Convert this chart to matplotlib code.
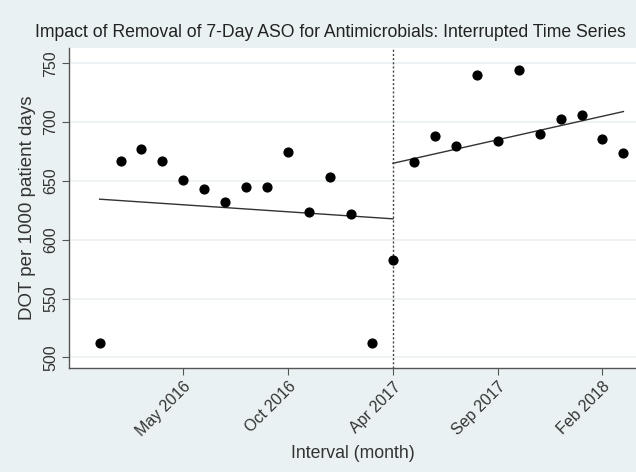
import matplotlib
matplotlib.use("Agg")
import matplotlib.pyplot as plt
import numpy as np

plt.rcParams['font.family'] = ['Liberation Sans', 'DejaVu Sans']

# Data
interval = list(range(26))
dot_rate = [512, 667, 677, 667, 651, 643, 632, 645, 645, 675, 624, 653, 622, 512, 583,
            666, 688, 680, 740, 684, 744, 690, 703, 706, 686, 674]
intervention = 14
pre_fit_x = [0, 14]
pre_fit_y = [634.5, 617.8]
post_fit_x = [14, 25]
post_fit_y = [665.0, 709.0]
tick_pos = [4, 9, 14, 19, 24]
tick_labels = ["May 2016", "Oct 2016", "Apr 2017", "Sep 2017", "Feb 2018"]
yticks = [500, 550, 600, 650, 700, 750]

bg = '#eaf1f3'
fig = plt.figure(figsize=(6.36, 4.72), dpi=100, facecolor=bg)
W, H = 636, 472
ax = fig.add_axes([69 / W, 1 - 368 / H, (636 - 69) / W, (368 - 48) / H])
ax.set_facecolor('white')

ax.set_xlim(-1.46, 25.6)
ax.set_ylim(491, 763)

for y in yticks:
    ax.axhline(y, color='#eaf1f3', lw=1.2, zorder=0)

ax.plot(pre_fit_x, pre_fit_y, color='#333333', lw=1.0, zorder=2)
ax.plot(post_fit_x, post_fit_y, color='#333333', lw=1.0, zorder=2)
ax.axvline(intervention, color='#444444', lw=1.0, ls=(0, (1.5, 1.5)), zorder=1)
ax.scatter(interval, dot_rate, s=40, color='black', zorder=3)

ax.set_yticks(yticks)
ax.set_yticklabels([str(v) for v in yticks], rotation=90, va='center', fontsize=11.5, color='#333333')
ax.set_xticks(tick_pos)
ax.set_xticklabels(tick_labels, rotation=45, ha='right', rotation_mode='anchor', fontsize=11.5, color='#333333')
ax.tick_params(axis='both', length=5, color='#555555', width=0.8, pad=3)

for s in ['top', 'right']:
    ax.spines[s].set_visible(False)
for s in ['left', 'bottom']:
    ax.spines[s].set_color('#555555')
    ax.spines[s].set_linewidth(1.0)

ax.set_ylabel("DOT per 1000 patient days", fontsize=13.5, color='#333333', labelpad=5)
ax.set_xlabel("Interval (month)", fontsize=12.7, color='#333333', labelpad=4)

fig.text(35 / W, 1 - 37 / H, "Impact of Removal of 7-Day ASO for Antimicrobials: Interrupted Time Series",
         fontsize=12.7, color='#222222', ha='left', va='baseline')

fig.savefig('out.png', dpi=100, facecolor=bg)
